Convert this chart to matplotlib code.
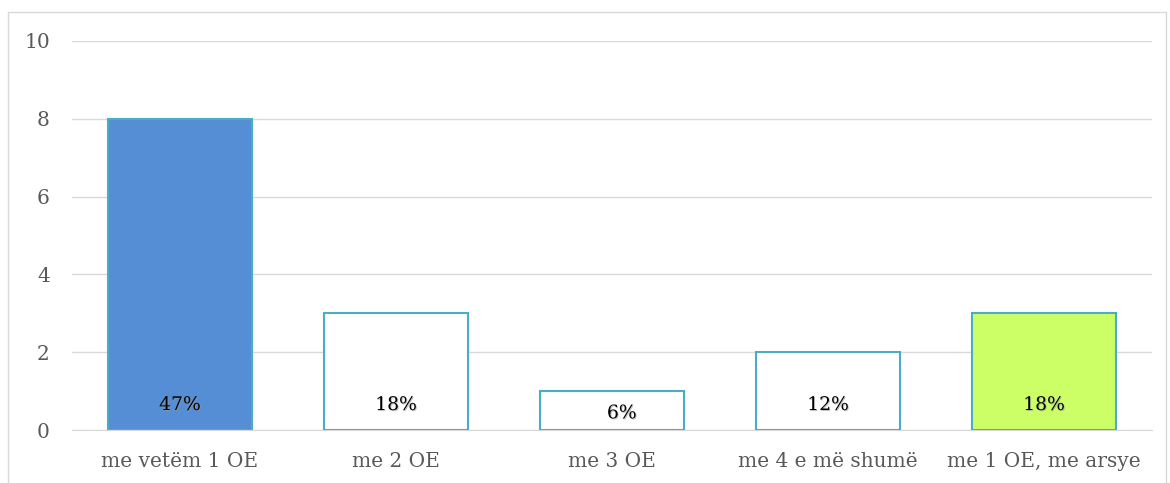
import matplotlib.pyplot as plt
import matplotlib.patheffects as pe
from matplotlib.patches import Rectangle

categories = ["me vetëm 1 OE", "me 2 OE", "me 3 OE", "me 4 e më shumë", "me 1 OE, me arsye"]
values = [8, 3, 1, 2, 3]
pct_labels = ["47%", "18%", "6%", "12%", "18%"]
fills = ["#558ED5", "white", "white", "white", "#CCFF66"]

plt.rcParams['font.family'] = ['DejaVu Serif']

fig = plt.figure(figsize=(11.7, 4.83), dpi=100)
# outer chart border
fig.patches.append(Rectangle((8 / 1170, -0.05), 1158 / 1170, 1.05 - 12 / 483,
                             transform=fig.transFigure, fill=False,
                             edgecolor="#D9D9D9", linewidth=1))

ax = fig.add_axes([72 / 1170, 53 / 483, 1080 / 1170, 389 / 483])
x = range(len(categories))
ax.bar(x, values, width=0.67, color=fills, edgecolor="#4BACC6", linewidth=1.5, zorder=3)

# label offsets in points (the short "6%" bar label sits lower, a bit right)
offs = [(0, 18), (0, 18), (7, 12), (0, 18), (0, 18)]
for i, lab in enumerate(pct_labels):
    ax.annotate(lab, (i, 0), xytext=offs[i], textcoords="offset points",
                ha="center", va="center", fontsize=13.5, color="black", zorder=4,
                path_effects=[pe.withSimplePatchShadow(offset=(0.7, -0.7), shadow_rgbFace="#999999", alpha=0.6)])

ax.set_xlim(-0.5, 4.5)
ax.set_ylim(0, 10)
ax.set_yticks([0, 2, 4, 6, 8, 10])
ax.set_xticks(list(x))
ax.set_xticklabels(categories)
ax.yaxis.grid(True, color="#D9D9D9", linewidth=1)
ax.set_axisbelow(True)
for s in ["top", "right", "left"]:
    ax.spines[s].set_visible(False)
ax.spines["bottom"].set_color("#D9D9D9")
ax.tick_params(axis="both", length=0, labelsize=14.5, colors="#595959")
ax.tick_params(axis="y", pad=16)
ax.tick_params(axis="x", pad=16)

fig.savefig("out.png", dpi=100)
